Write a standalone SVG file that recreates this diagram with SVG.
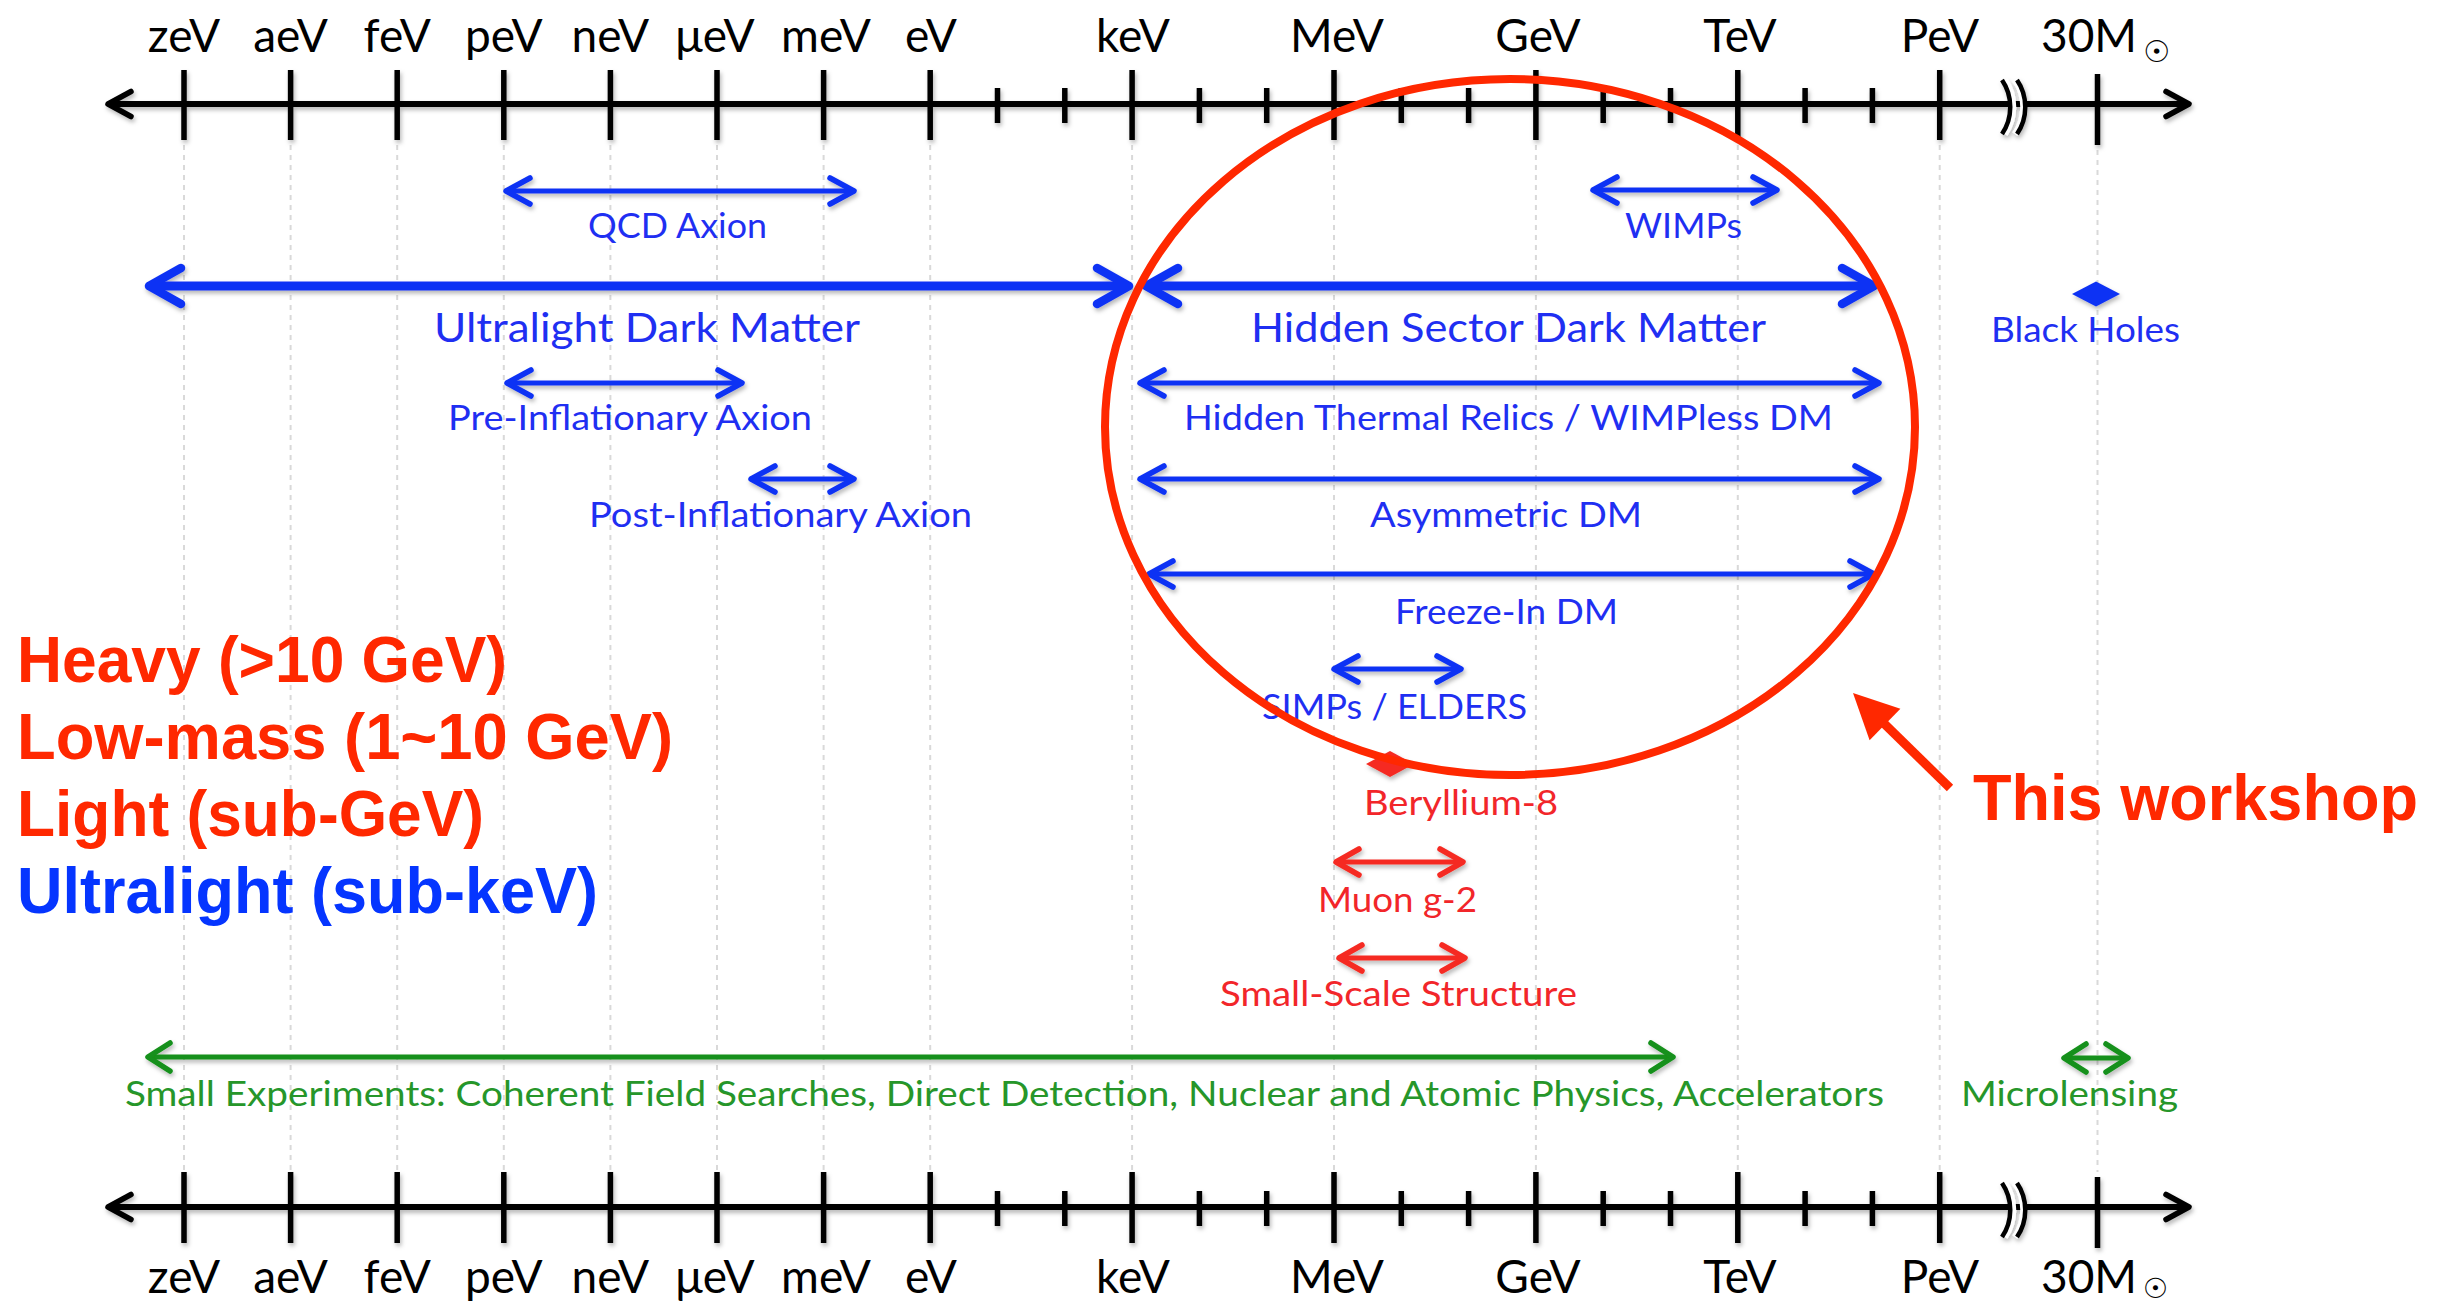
<svg xmlns="http://www.w3.org/2000/svg" width="2454" height="1306" viewBox="0 0 2454 1306">
  <defs>
    <style>
      .axis { stroke: #000; fill: none; stroke-width: 6; }
      .tick { stroke: #000; fill: none; stroke-width: 5.5; }
      .grid { stroke: #d9d9d9; stroke-width: 2; stroke-dasharray: 5 5; fill: none; }
      .scale { font-family: Lato, "Open Sans", sans-serif; font-size: 46px; fill: #000; text-anchor: middle; }
      .lbl { font-family: Lato, "Open Sans", sans-serif; font-size: 35px; text-anchor: middle; }
      .big { font-size: 41px; }
      .blue { fill: #1f2ff2; }
      .red { fill: #f2262a; }
      .green { fill: #26962a; }
      .rb { stroke: #1032f4; stroke-width: 5; fill: none; marker-start: url(#hb); marker-end: url(#hb); }
      .rbt { stroke: #1032f4; stroke-width: 9; fill: none; marker-start: url(#hbt); marker-end: url(#hbt); }
      .rr { stroke: #f52a22; stroke-width: 5; fill: none; marker-start: url(#hr); marker-end: url(#hr); }
      .rg { stroke: #13901a; stroke-width: 5; fill: none; marker-start: url(#hg); marker-end: url(#hg); }
      .legend { font-family: "Liberation Sans", Arial, Helvetica, sans-serif; font-weight: bold; font-size: 64px; }
      .hot { fill: #ff2800; }
      .cool { fill: #0535ff; }
    </style>
    <filter id="sh" filterUnits="userSpaceOnUse" x="0" y="0" width="2454" height="1306">
      <feDropShadow dx="1.5" dy="3" stdDeviation="2" flood-color="#000" flood-opacity="0.28"/>
    </filter>
    <marker id="hb" markerUnits="userSpaceOnUse" orient="auto-start-reverse" overflow="visible" refX="0" refY="0">
      <path d="M-24,-13 L0,0 L-24,13" fill="none" stroke="#1032f4" stroke-width="5.5" stroke-linecap="round" stroke-linejoin="round"/>
    </marker>
    <marker id="hbt" markerUnits="userSpaceOnUse" orient="auto-start-reverse" overflow="visible" refX="0" refY="0">
      <path d="M-32,-18 L0,0 L-32,18" fill="none" stroke="#1032f4" stroke-width="8.5" stroke-linecap="round" stroke-linejoin="round"/>
    </marker>
    <marker id="hr" markerUnits="userSpaceOnUse" orient="auto-start-reverse" overflow="visible" refX="0" refY="0">
      <path d="M-23,-13 L0,0 L-23,13" fill="none" stroke="#f52a22" stroke-width="5.5" stroke-linecap="round" stroke-linejoin="round"/>
    </marker>
    <marker id="hg" markerUnits="userSpaceOnUse" orient="auto-start-reverse" overflow="visible" refX="0" refY="0">
      <path d="M-22,-14 L0,0 L-22,14" fill="none" stroke="#13901a" stroke-width="5.5" stroke-linecap="round" stroke-linejoin="round"/>
    </marker>
    <marker id="hk" markerUnits="userSpaceOnUse" orient="auto-start-reverse" overflow="visible" refX="0" refY="0">
      <path d="M-23,-12.5 L0,0 L-23,12.5" fill="none" stroke="#000" stroke-width="5.5" stroke-linecap="round" stroke-linejoin="round"/>
    </marker>
  </defs>

  <rect width="2454" height="1306" fill="#fff"/>

  <!-- faint guide lines under each decade label -->
  <g id="grid" class="grid">
    <path d="M184,145V1170 M290.6,145V1170 M397.2,145V1170 M503.8,145V1170 M610.4,145V1170 M717,145V1170 M823.6,145V1170 M930.2,145V1170 M1132.1,145V1170 M1334,145V1170 M1535.9,145V1170 M1737.8,145V1170 M1939.7,145V1170 M2097.5,150V1172"/>
  </g>

  <!-- top mass scale -->
  <g id="scale-top">
    <g filter="url(#sh)">
      <line class="axis" x1="108" y1="104" x2="2189" y2="104" marker-start="url(#hk)" marker-end="url(#hk)"/>
      <path class="tick" d="M184,70V140 M290.6,70V140 M397.2,70V140 M503.8,70V140 M610.4,70V140 M717,70V140 M823.6,70V140 M930.2,70V140 M1132.1,70V140 M1334,70V140 M1535.9,70V140 M1737.8,70V140 M1939.7,70V140 M2097.5,74V145"/>
      <path class="tick" d="M997.5,88V123 M1064.8,88V123 M1199.4,88V123 M1266.7,88V123 M1401.3,88V123 M1468.6,88V123 M1603.2,88V123 M1670.5,88V123 M1805.1,88V123 M1872.4,88V123"/>
      <!-- axis break -->
      <path d="M2005,80 C2016,96 2016,118 2005,134 M2015,80 C2026,96 2026,118 2015,134" fill="none" stroke="#fff" stroke-width="6"/>
      <path d="M2002,80 C2013,96 2013,118 2002,134 M2017,80 C2028,96 2028,118 2017,134" fill="none" stroke="#000" stroke-width="4.5"/>
    </g>
    <text class="scale" x="184" y="52">zeV</text>
    <text class="scale" x="290.6" y="52">aeV</text>
    <text class="scale" x="397.2" y="52">feV</text>
    <text class="scale" x="503.8" y="52">peV</text>
    <text class="scale" x="610.4" y="52">neV</text>
    <text class="scale" x="715" y="52">μeV</text>
    <text class="scale" x="826" y="52">meV</text>
    <text class="scale" x="931" y="52">eV</text>
    <text class="scale" x="1133" y="52">keV</text>
    <text class="scale" x="1337" y="52">MeV</text>
    <text class="scale" x="1538" y="52">GeV</text>
    <text class="scale" x="1740" y="52">TeV</text>
    <text class="scale" x="1940" y="52">PeV</text>
    <text class="scale" x="2041" y="52" style="text-anchor:start">30M<tspan x="2143" y="62" font-family="'DejaVu Sans', sans-serif" font-size="30">☉</tspan></text>
  </g>

  <!-- bottom mass scale -->
  <g id="scale-bottom">
    <g filter="url(#sh)">
      <line class="axis" x1="108" y1="1207" x2="2189" y2="1207" marker-start="url(#hk)" marker-end="url(#hk)"/>
      <path class="tick" d="M184,1172V1243 M290.6,1172V1243 M397.2,1172V1243 M503.8,1172V1243 M610.4,1172V1243 M717,1172V1243 M823.6,1172V1243 M930.2,1172V1243 M1132.1,1172V1243 M1334,1172V1243 M1535.9,1172V1243 M1737.8,1172V1243 M1939.7,1172V1243 M2097.5,1177V1248"/>
      <path class="tick" d="M997.5,1191V1226 M1064.8,1191V1226 M1199.4,1191V1226 M1266.7,1191V1226 M1401.3,1191V1226 M1468.6,1191V1226 M1603.2,1191V1226 M1670.5,1191V1226 M1805.1,1191V1226 M1872.4,1191V1226"/>
      <path d="M2005,1183 C2016,1199 2016,1221 2005,1237 M2015,1183 C2026,1199 2026,1221 2015,1237" fill="none" stroke="#fff" stroke-width="6"/>
      <path d="M2002,1183 C2013,1199 2013,1221 2002,1237 M2017,1183 C2028,1199 2028,1221 2017,1237" fill="none" stroke="#000" stroke-width="4.5"/>
    </g>
    <text class="scale" x="184" y="1293">zeV</text>
    <text class="scale" x="290.6" y="1293">aeV</text>
    <text class="scale" x="397.2" y="1293">feV</text>
    <text class="scale" x="503.8" y="1293">peV</text>
    <text class="scale" x="610.4" y="1293">neV</text>
    <text class="scale" x="715" y="1293">μeV</text>
    <text class="scale" x="826" y="1293">meV</text>
    <text class="scale" x="931" y="1293">eV</text>
    <text class="scale" x="1133" y="1293">keV</text>
    <text class="scale" x="1337" y="1293">MeV</text>
    <text class="scale" x="1538" y="1293">GeV</text>
    <text class="scale" x="1740" y="1293">TeV</text>
    <text class="scale" x="1940" y="1293">PeV</text>
    <text class="scale" x="2041" y="1293" style="text-anchor:start">30M<tspan x="2143" y="1298" font-family="'DejaVu Sans', sans-serif" font-size="28">☉</tspan></text>
  </g>

  <!-- dark matter candidate ranges -->
  <g id="qcd-axion">
    <line class="rb" x1="506" y1="191" x2="854" y2="191" filter="url(#sh)"/>
    <text class="lbl blue" x="677.5" y="238" textLength="179" lengthAdjust="spacingAndGlyphs">QCD Axion</text>
  </g>
  <g id="wimps">
    <line class="rb" x1="1593" y1="190" x2="1777" y2="190" filter="url(#sh)"/>
    <text class="lbl blue" x="1683.5" y="238" textLength="117" lengthAdjust="spacingAndGlyphs">WIMPs</text>
  </g>
  <g id="ultralight-dm">
    <line class="rbt" x1="149" y1="286" x2="1129" y2="286" filter="url(#sh)"/>
    <text class="lbl big blue" x="647" y="342" textLength="426" lengthAdjust="spacingAndGlyphs">Ultralight Dark Matter</text>
  </g>
  <g id="hidden-sector-dm">
    <line class="rbt" x1="1146" y1="286" x2="1874" y2="286" filter="url(#sh)"/>
    <text class="lbl big blue" x="1508.5" y="342" textLength="515" lengthAdjust="spacingAndGlyphs">Hidden Sector Dark Matter</text>
  </g>
  <g id="black-holes">
    <polygon points="2072,294 2096,281.5 2120,294 2096,306.5" fill="#1032f4" filter="url(#sh)"/>
    <text class="lbl blue" x="2085.5" y="342" textLength="189" lengthAdjust="spacingAndGlyphs">Black Holes</text>
  </g>
  <g id="pre-inflationary-axion">
    <line class="rb" x1="507" y1="383" x2="742" y2="383" filter="url(#sh)"/>
    <text class="lbl blue" x="630" y="430" textLength="364" lengthAdjust="spacingAndGlyphs">Pre-Inflationary Axion</text>
  </g>
  <g id="hidden-thermal-relics">
    <line class="rb" x1="1140" y1="383" x2="1879" y2="383" filter="url(#sh)"/>
    <text class="lbl blue" x="1508.5" y="430" textLength="649" lengthAdjust="spacingAndGlyphs">Hidden Thermal Relics / WIMPless DM</text>
  </g>
  <g id="post-inflationary-axion">
    <line class="rb" x1="751" y1="479" x2="854" y2="479" filter="url(#sh)"/>
    <text class="lbl blue" x="780.5" y="527" textLength="383" lengthAdjust="spacingAndGlyphs">Post-Inflationary Axion</text>
  </g>
  <g id="asymmetric-dm">
    <line class="rb" x1="1140" y1="479" x2="1879" y2="479" filter="url(#sh)"/>
    <text class="lbl blue" x="1506" y="527" textLength="272" lengthAdjust="spacingAndGlyphs">Asymmetric DM</text>
  </g>
  <g id="freeze-in-dm">
    <line class="rb" x1="1149" y1="574" x2="1874" y2="574" filter="url(#sh)"/>
    <text class="lbl blue" x="1506.5" y="624" textLength="223" lengthAdjust="spacingAndGlyphs">Freeze-In DM</text>
  </g>
  <g id="simps-elders">
    <line class="rb" x1="1334" y1="669" x2="1461" y2="669" filter="url(#sh)"/>
    <text class="lbl blue" x="1394.5" y="719" textLength="265" lengthAdjust="spacingAndGlyphs">SIMPs / ELDERS</text>
  </g>
  <g id="beryllium-8">
    <polygon points="1366,764 1390,751 1414,764 1390,777" fill="#f52a22" filter="url(#sh)"/>
    <text class="lbl red" x="1461" y="815" textLength="194" lengthAdjust="spacingAndGlyphs">Beryllium-8</text>
  </g>
  <g id="muon-g-2">
    <line class="rr" x1="1336" y1="862" x2="1463" y2="862" filter="url(#sh)"/>
    <text class="lbl red" x="1397.5" y="912" textLength="159" lengthAdjust="spacingAndGlyphs">Muon g-2</text>
  </g>
  <g id="small-scale-structure">
    <line class="rr" x1="1339" y1="958" x2="1465" y2="958" filter="url(#sh)"/>
    <text class="lbl red" x="1398.5" y="1006" textLength="357" lengthAdjust="spacingAndGlyphs">Small-Scale Structure</text>
  </g>
  <g id="small-experiments">
    <line class="rg" x1="148" y1="1057" x2="1673" y2="1057" filter="url(#sh)"/>
    <text class="lbl green" x="125" y="1106" style="text-anchor:start" textLength="1759" lengthAdjust="spacingAndGlyphs">Small Experiments: Coherent Field Searches, Direct Detection, Nuclear and Atomic Physics, Accelerators</text>
  </g>
  <g id="microlensing">
    <line class="rg" x1="2064" y1="1058" x2="2128" y2="1058" filter="url(#sh)"/>
    <text class="lbl green" x="2069.5" y="1106" textLength="217" lengthAdjust="spacingAndGlyphs">Microlensing</text>
  </g>

  <!-- mass-class legend -->
  <g id="legend" class="legend">
    <text class="hot" x="17" y="682" textLength="490" lengthAdjust="spacingAndGlyphs">Heavy (&gt;10 GeV)</text>
    <text class="hot" x="17" y="759" textLength="656" lengthAdjust="spacingAndGlyphs">Low-mass (1~10 GeV)</text>
    <text class="hot" x="17" y="836" textLength="467" lengthAdjust="spacingAndGlyphs">Light (sub-GeV)</text>
    <text class="cool" x="17" y="913" textLength="581" lengthAdjust="spacingAndGlyphs">Ultralight (sub-keV)</text>
  </g>

  <!-- highlighted region -->
  <g id="workshop-region">
    <ellipse cx="1510" cy="427" rx="405" ry="348" fill="none" stroke="#ff2800" stroke-width="8"/>
  </g>
  <g id="workshop-label">
    <text class="legend hot" x="1973" y="820" font-size="63" textLength="445" lengthAdjust="spacingAndGlyphs">This workshop</text>
  </g>

  <g id="connectors">
    <line x1="1950" y1="788" x2="1882" y2="721.5" stroke="#ff2800" stroke-width="9"/>
    <polygon points="1853,693 1900.4,708.8 1869.6,740.2" fill="#ff2800"/>
  </g>
</svg>
